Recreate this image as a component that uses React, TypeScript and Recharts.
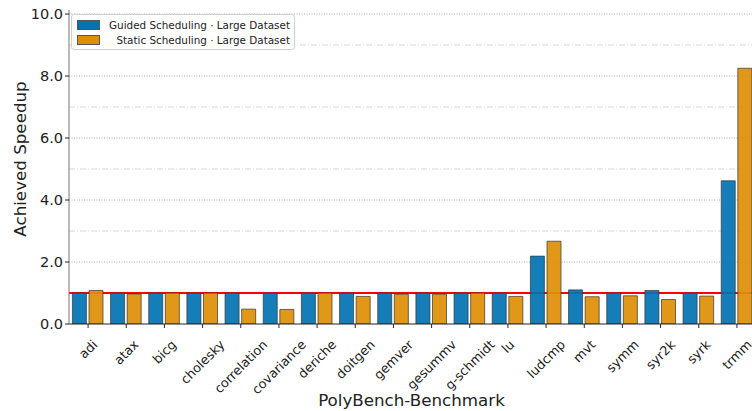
import { BarChart, Bar, XAxis, YAxis, ReferenceLine, Legend, Label } from 'recharts';

const categories = [
  'adi', 'atax', 'bicg', 'cholesky', 'correlation', 'covariance', 'deriche', 'doitgen', 'gemver',
  'gesummv', 'g-schmidt', 'lu', 'ludcmp', 'mvt', 'symm', 'syr2k', 'syrk', 'trmm',
];
const guided = [1.0, 1.0, 1.0, 1.0, 1.0, 1.0, 1.0, 1.0, 1.0, 1.0, 1.0, 1.0, 2.19, 1.1, 1.0, 1.08, 1.0, 4.62];
const staticSched = [1.08, 0.97, 1.0, 1.0, 0.48, 0.47, 1.0, 0.89, 0.96, 0.96, 1.0, 0.89, 2.67, 0.88, 0.91, 0.79, 0.9, 8.25];
const yTicks = [0, 2, 4, 6, 8, 10];
const majorGrid = [2, 4, 6, 8, 10];
const minorGrid = [1, 3, 5, 7, 9];
const baseline = 1;

const FONT = 'DejaVu Sans';

const data = categories.map((name, i) => ({ name, guided: guided[i], static: staticSched[i] }));

let ctx: CanvasRenderingContext2D | null = null;
const measure = (s: string, size: number) => {
  if (!ctx) ctx = document.createElement('canvas').getContext('2d');
  if (!ctx) return s.length * size * 0.6;
  ctx.font = `${size}px "${FONT}"`;
  return ctx.measureText(s).width;
};

// rotated label, its bounding box centred under the tick
const XTick = ({ x, y, payload }: any) => {
  const size = 12.8;
  const w = measure(payload.value, size);
  const h = size * 1.16;
  const cy = y + 7 + (w + h) * 0.3536;
  return (
    <text
      x={x}
      y={cy}
      textAnchor="middle"
      dominantBaseline="central"
      transform={`rotate(-45, ${x}, ${cy})`}
      fontSize={size}
      fontFamily={FONT}
      fill="#222"
    >
      {payload.value}
    </text>
  );
};

const LegendBox = ({ payload }: any) => (
  <div
    style={{
      display: 'inline-block',
      border: '1px solid #d0d0d0',
      borderRadius: 3,
      background: 'rgba(255,255,255,0.85)',
      padding: '2px 4px 2px 5px',
      fontFamily: FONT,
      fontSize: 10.4,
      color: '#222',
    }}
  >
    {(payload || []).map((p: any) => (
      <div key={p.value} style={{ display: 'flex', alignItems: 'center', height: 15 }}>
        <span
          style={{
            width: 21,
            height: 8,
            background: p.color,
            border: '1px solid #555',
            marginRight: 8,
            flex: 'none',
          }}
        />
        <span style={{ width: 182, textAlign: 'right', whiteSpace: 'nowrap' }}>{p.value}</span>
      </div>
    ))}
  </div>
);

export default function App() {
  return (
    <div style={{ position: 'absolute', left: 0, top: 0, width: 752, height: 411, overflow: 'hidden', background: '#fff' }}>
      <BarChart
        width={756}
        height={411}
        data={data}
        margin={{ top: 10, right: 0, bottom: 0, left: 0 }}
        barCategoryGap={3.4}
        barGap={2.6}
      >
        {minorGrid.map((v) => (
          <ReferenceLine key={`mi${v}`} y={v} stroke="#d8d8d8" strokeDasharray="6 2 1 2" zIndex={-50} />
        ))}
        {majorGrid.map((v) => (
          <ReferenceLine key={`ma${v}`} y={v} stroke="#a8a8a8" strokeDasharray="1 1.5" zIndex={-50} />
        ))}
        <ReferenceLine y={baseline} stroke="#ff0000" strokeWidth={2} zIndex={-40} />
        <XAxis
          dataKey="name"
          height={87}
          interval={0}
          tick={<XTick />}
          tickSize={4}
          tickLine={{ stroke: '#222' }}
          axisLine={{ stroke: '#222' }}
        >
          <Label
            content={({ viewBox }: any) => (
              <text
                x={viewBox.x + viewBox.width / 2 - 1}
                y={406}
                textAnchor="middle"
                fontSize={16.7}
                fontFamily={FONT}
                fill="#222"
              >
                PolyBench-Benchmark
              </text>
            )}
          />
        </XAxis>
        <XAxis xAxisId="top" orientation="top" dataKey="name" height={0} tick={false} tickLine={false} axisLine={{ stroke: '#666' }} />
        <YAxis
          width={69}
          domain={[0, 10.13]}
          ticks={yTicks}
          allowDataOverflow
          tickFormatter={(v: number) => v.toFixed(1)}
          tick={{ fontSize: 14.5, fontFamily: FONT, fill: '#222' }}
          tickSize={4}
          tickMargin={2}
          tickLine={{ stroke: '#222' }}
          axisLine={{ stroke: '#777' }}
        >
          <Label
            content={() => (
              <text
                x={26}
                y={159}
                textAnchor="middle"
                transform="rotate(-90, 26, 159)"
                fontSize={16.7}
                fontFamily={FONT}
                fill="#222"
              >
                Achieved Speedup
              </text>
            )}
          />
        </YAxis>
        <Legend
          layout="horizontal"
          verticalAlign="top"
          align="left"
          content={<LegendBox />}
          wrapperStyle={{ position: 'absolute', left: 71, top: 14, width: 0, height: 0, overflow: 'visible' }}
        />
        <Bar
          dataKey="guided"
          name="Guided Scheduling · Large Dataset"
          fill="#0173b2"
          fillOpacity={0.92}
          stroke="#333"
          strokeOpacity={0.7}
          isAnimationActive={false}
        />
        <Bar
          dataKey="static"
          name="Static Scheduling · Large Dataset"
          fill="#de8f05"
          fillOpacity={0.92}
          stroke="#333"
          strokeOpacity={0.7}
          isAnimationActive={false}
        />
      </BarChart>
    </div>
  );
}
